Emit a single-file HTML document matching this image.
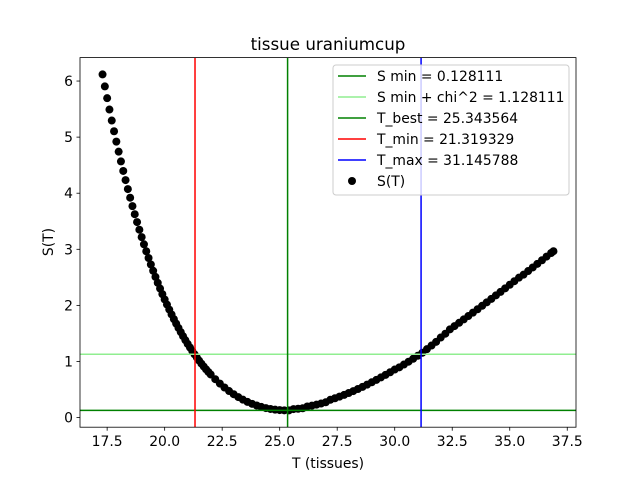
<!DOCTYPE html>
<html><head><meta charset="utf-8"><style>
body{margin:0;background:#fff}
svg{display:block;font-family:"DejaVu Sans","Liberation Sans",sans-serif}
</style></head><body>
<svg id="c" width="640" height="480" viewBox="0 0 640 480"></svg>
<script>
const temps=[17.3,17.4,17.5,17.6,17.7,17.8,17.9,18.0,18.1,18.2,18.3,18.4,18.5,18.6,18.7,18.8,18.9,19.0,19.1,19.2,19.3,19.4,19.5,19.6,19.7,19.8,19.9,20.0,20.1,20.2,20.3,20.4,20.5,20.6,20.7,20.8,20.9,21.0,21.1,21.2,21.3,21.4,21.5,21.6,21.7,21.8,21.9,22.0,22.2,22.4,22.6,22.8,23.0,23.2,23.4,23.6,23.8,24.0,24.2,24.4,24.6,24.8,25.0,25.2,25.4,25.6,25.8,26.0,26.2,26.4,26.6,26.8,27.0,27.2,27.4,27.6,27.8,28.0,28.2,28.4,28.6,28.8,29.0,29.2,29.4,29.6,29.8,30.0,30.2,30.4,30.6,30.8,31.0,31.2,31.4,31.6,31.8,32.0,32.2,32.4,32.6,32.8,33.0,33.2,33.4,33.6,33.8,34.0,34.2,34.4,34.6,34.8,35.0,35.2,35.4,35.6,35.8,36.0,36.2,36.4,36.6,36.8,36.9];
const sValues=[6.118,5.904,5.695,5.492,5.296,5.105,4.920,4.741,4.567,4.397,4.234,4.074,3.920,3.770,3.626,3.485,3.349,3.217,3.089,2.965,2.845,2.729,2.617,2.508,2.402,2.300,2.201,2.106,2.014,1.925,1.838,1.755,1.675,1.598,1.523,1.450,1.380,1.313,1.249,1.187,1.127,1.069,1.014,0.960,0.909,0.860,0.813,0.768,0.684,0.606,0.536,0.473,0.416,0.365,0.319,0.279,0.245,0.215,0.190,0.169,0.153,0.141,0.133,0.129,0.128,0.151,0.157,0.166,0.198,0.212,0.230,0.250,0.272,0.317,0.344,0.373,0.404,0.438,0.472,0.509,0.547,0.587,0.629,0.671,0.716,0.761,0.808,0.856,0.895,0.945,0.996,1.048,1.101,1.155,1.219,1.284,1.350,1.427,1.495,1.573,1.631,1.690,1.750,1.810,1.871,1.931,1.993,2.054,2.116,2.179,2.241,2.304,2.368,2.431,2.494,2.548,2.612,2.676,2.741,2.805,2.870,2.934,2.966];
const xTicks=[17.5,20.0,22.5,25.0,27.5,30.0,32.5,35.0,37.5];
const yTicks=[0,1,2,3,4,5,6];
const sMin=0.128111, sMinChi=1.128111, tBest=25.343564, tMin=21.319329, tMax=31.145788;
const legendLabels=["S min = 0.128111","S min + chi^2 = 1.128111","T_best = 25.343564","T_min = 21.319329","T_max = 31.145788","S(T)"];

const L=80,R=576,T=57.6,B=427.2;
const x0=16.32,x1=37.88,y0=-0.172,y1=6.418;
const X=v=>L+(v-x0)/(x1-x0)*(R-L);
const Y=v=>B-(v-y0)/(y1-y0)*(B-T);
const svg=document.getElementById('c');
const NS='http://www.w3.org/2000/svg';
function mk(tag,attrs,parent){const e=document.createElementNS(NS,tag);for(const k in attrs)e.setAttribute(k,attrs[k]);(parent||svg).appendChild(e);return e;}

const pts=mk('g',{});


temps.forEach((t,i)=>{const c=mk('circle',{cx:X(t),cy:Y(sValues[i]),r:4,fill:'#000'},pts);

});

function hline(v,col,name){const l=mk('line',{x1:L,x2:R,y1:Y(v),y2:Y(v),stroke:col,'stroke-width':1.5});

}
function vline(v,col,name){const l=mk('line',{x1:X(v),x2:X(v),y1:T,y2:B,stroke:col,'stroke-width':1.5});

}
hline(sMin,'#008000','s-min-line');
hline(sMinChi,'#90ee90','s-min-chi2-line');
vline(tBest,'#008000','t-best-line');
vline(tMin,'#ff0000','t-min-line');
vline(tMax,'#0000ff','t-max-line');

const frame=mk('rect',{x:L,y:T,width:R-L,height:B-T,fill:'none',stroke:'#000','stroke-width':0.8});



xTicks.forEach(v=>{const g=mk('g',{});


mk('line',{x1:X(v),x2:X(v),y1:B,y2:B+3.5,stroke:'#000','stroke-width':0.8},g);
const t=mk('text',{x:X(v),y:B+19,'font-size':13.9,'text-anchor':'middle'},g);t.textContent=v.toFixed(1);});
yTicks.forEach(v=>{const g=mk('g',{});


mk('line',{x1:L-3.5,x2:L,y1:Y(v),y2:Y(v),stroke:'#000','stroke-width':0.8},g);
const t=mk('text',{x:L-7,y:Y(v)+5,'font-size':13.9,'text-anchor':'end'},g);t.textContent=v;});

const title=mk('text',{x:328,y:50,'font-size':16.7,'text-anchor':'middle'});title.textContent='tissue uraniumcup';


const xl=mk('text',{x:328,y:468,'font-size':13.9,'text-anchor':'middle'});xl.textContent='T (tissues)';


const yl=mk('text',{x:53,y:242,'font-size':13.9,'text-anchor':'middle',transform:'rotate(-90 53 242)'});yl.textContent='S(T)';



const lg=mk('g',{});


mk('rect',{x:333,y:65,width:236,height:130,rx:3,fill:'#fff','fill-opacity':0.8,stroke:'#ccc','stroke-width':1},lg);
const cols=['#008000','#90ee90','#008000','#ff0000','#0000ff',null];
legendLabels.forEach((s,i)=>{const y=76+i*21;const e=mk('g',{},lg);


if(cols[i])mk('line',{x1:338,x2:366,y1:y,y2:y,stroke:cols[i],'stroke-width':1.5},e);
else mk('circle',{cx:352,cy:y,r:4,fill:'#000'},e);
const t=mk('text',{x:377,y:y+5,'font-size':13.9},e);t.textContent=s;});
</script>
</body></html>
